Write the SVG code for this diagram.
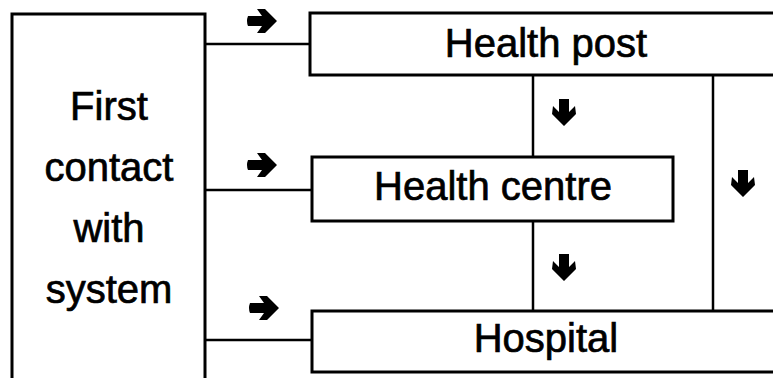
<svg xmlns="http://www.w3.org/2000/svg" width="773" height="378" viewBox="0 0 773 378">
  <style>
    .box { fill: #fff; stroke: #000; stroke-width: 3; }
    .conn { fill: none; stroke: #000; stroke-width: 2.5; }
    .lbl { font-family: "Liberation Sans", Arial, sans-serif; font-size: 40px; fill: #000; stroke: #000; stroke-width: 0.7; text-anchor: middle; }
  </style>
  <defs>
    <path id="arrR" d="M-14,-5 L0,-5 L-5,-12 L3,-12 L15,0 L3,12 L-5,12 L0,5 L-14,5 Q-16,0 -14,-5 Z" fill="#000"/>
    <path id="arrD" d="M-5,-14 L5,-14 L5,-1 L11,-7 L12,1 L0,13 L-12,1 L-11,-7 L-5,-1 Z" fill="#000"/>
  </defs>
  <rect width="773" height="378" fill="#fff"/>

  <g id="connectors">
    <line class="conn" x1="205" y1="44" x2="310" y2="44"/>
    <line class="conn" x1="205" y1="190" x2="312" y2="190"/>
    <line class="conn" x1="205" y1="340" x2="312" y2="340"/>
    <line class="conn" x1="533" y1="75" x2="533" y2="157"/>
    <line class="conn" x1="533" y1="221" x2="533" y2="311"/>
    <line class="conn" x1="713" y1="75" x2="713" y2="311"/>
    <use href="#arrR" transform="translate(262,21)"/>
    <use href="#arrR" transform="translate(262,165)"/>
    <use href="#arrR" transform="translate(264,308)"/>
    <use href="#arrD" transform="translate(564,113)"/>
    <use href="#arrD" transform="translate(564,268)"/>
    <use href="#arrD" transform="translate(743,184)"/>
  </g>

  <g id="first-contact">
    <rect class="box" x="12" y="14" width="193" height="380"/>
    <text class="lbl" x="109" y="120">First</text>
    <text class="lbl" x="109" y="181">contact</text>
    <text class="lbl" x="109" y="242">with</text>
    <text class="lbl" x="109" y="303">system</text>
  </g>

  <g id="health-post">
    <rect class="box" x="310" y="13" width="480" height="62"/>
    <text class="lbl" x="546" y="57">Health post</text>
  </g>

  <g id="health-centre">
    <rect class="box" x="312" y="157" width="361" height="64"/>
    <text class="lbl" x="493" y="200">Health centre</text>
  </g>

  <g id="hospital">
    <rect class="box" x="312" y="311" width="480" height="61"/>
    <text class="lbl" x="546" y="352">Hospital</text>
  </g>
</svg>
